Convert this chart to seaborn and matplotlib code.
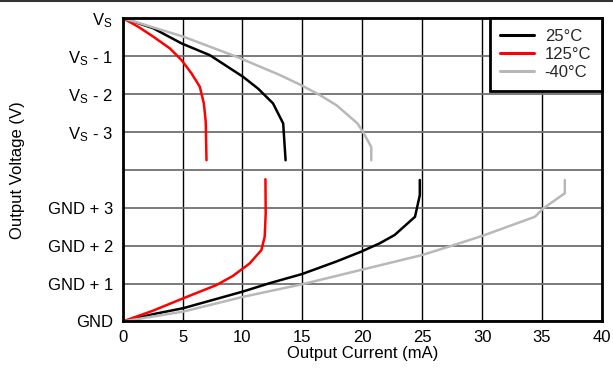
import matplotlib
matplotlib.use("Agg")
import matplotlib.pyplot as plt
from matplotlib.lines import Line2D
import seaborn as sns
import pandas as pd

# ---- data (x: output current mA, y: axis position, 0=GND ... 8=VS) ----
temps = ["25°C", "125°C", "-40°C"]
colors = ["#000000", "#ff0000", "#b8b8b8"]

black_top_x = [0, 2.55, 4.92, 7.28, 10.05, 11.3, 12.55, 13.4, 13.6]
black_top_y = [8, 7.73, 7.33, 7.02, 6.45, 6.14, 5.75, 5.22, 4.25]
red_top_x = [0, 1.3, 2.55, 3.94, 4.92, 5.75, 6.44, 6.78, 6.94, 7.0]
red_top_y = [8, 7.77, 7.51, 7.2, 6.89, 6.54, 6.19, 5.75, 5.26, 4.25]
gray_top_x = [0, 5.05, 9.5, 13.1, 14.9, 16.45, 17.85, 19.6, 20.05, 20.75, 20.75]
gray_top_y = [8, 7.51, 6.98, 6.5, 6.23, 5.97, 5.7, 5.22, 5.0, 4.6, 4.25]

black_bot_x = [0, 2.5, 5.05, 10.05, 12.27, 14.97, 17.83, 19.9, 21.45, 22.7, 24.4, 24.8, 24.8]
black_bot_y = [0, 0.19, 0.35, 0.79, 1.01, 1.25, 1.58, 1.84, 2.06, 2.28, 2.76, 3.33, 3.73]
red_bot_x = [0, 2.5, 5.05, 7.83, 9.2, 10.05, 10.6, 11.58, 11.86, 11.94, 11.92]
red_bot_y = [0, 0.28, 0.61, 0.96, 1.2, 1.4, 1.53, 1.88, 2.24, 2.85, 3.75]
gray_bot_x = [0, 5.05, 10.05, 14.97, 19.9, 24.97, 27.4, 30.05, 34.4, 35.1, 36.9, 36.9]
gray_bot_y = [0, 0.26, 0.65, 0.98, 1.36, 1.75, 1.99, 2.26, 2.76, 2.98, 3.38, 3.73]

y_ticks = [0, 1, 2, 3, 4, 5, 6, 7, 8]
y_labels = ["GND", "GND + 1", "GND + 2", "GND + 3", "",
            "V$_S$ - 3", "V$_S$ - 2", "V$_S$ - 1", "V$_S$"]
x_ticks = [0, 5, 10, 15, 20, 25, 30, 35, 40]

# ---- build long table ----
segments = [
    ("25°C", "top", black_top_x, black_top_y),
    ("125°C", "top", red_top_x, red_top_y),
    ("-40°C", "top", gray_top_x, gray_top_y),
    ("25°C", "bot", black_bot_x, black_bot_y),
    ("125°C", "bot", red_bot_x, red_bot_y),
    ("-40°C", "bot", gray_bot_x, gray_bot_y),
]
rows = []
for t, s, xs, ys in segments:
    for i, (x, y) in enumerate(zip(xs, ys)):
        rows.append({"temp": t, "seg": t + s, "order": i, "x": x, "y": y})
df = pd.DataFrame(rows)

sns.set_theme(style="white")
plt.rcParams["font.family"] = ["Liberation Sans", "DejaVu Sans"]
plt.rcParams["mathtext.default"] = "regular"

fig = plt.figure(figsize=(6.13, 3.68), dpi=100)
ax = fig.add_axes([0.2, 0.1264, 0.782, 0.8247])

sns.lineplot(data=df, x="x", y="y", hue="temp", units="seg", estimator=None,
             sort=False, hue_order=temps, palette=dict(zip(temps, colors)),
             linewidth=1.8, ax=ax)

ax.set_xlim(0, 40)
ax.set_ylim(0, 8)
ax.set_xticks(x_ticks)
ax.set_yticks(y_ticks)
ax.set_yticklabels(y_labels)
ax.tick_params(axis="both", length=0, labelsize=12, colors="black")
ax.tick_params(axis="y", pad=7)
ax.tick_params(axis="x", pad=6)

ax.xaxis.grid(True, color="#000000", linewidth=1.0)
ax.yaxis.grid(True, color="#707070", linewidth=1.3)
ax.set_axisbelow(True)
for sp in ax.spines.values():
    sp.set_visible(True)
    sp.set_color("black")
    sp.set_linewidth(2.0)

ax.set_xlabel("Output Current (mA)", fontsize=12, labelpad=1, color="black")
ax.set_ylabel("Output Voltage (V)", fontsize=12, labelpad=16, color="black")

leg = ax.legend(loc="upper right", borderaxespad=0, fontsize=12, frameon=True,
                fancybox=False, framealpha=1, handlelength=2.0, handletextpad=0.65,
                labelspacing=0.18, borderpad=0.65, title=None)
leg.get_frame().set_edgecolor("black")
leg.get_frame().set_linewidth(2.0)
for h in leg.get_lines():
    h.set_linewidth(2.2)

fig.add_artist(Line2D([0, 1], [0.998, 0.998], transform=fig.transFigure,
                      color="#333333", linewidth=1.5))

fig.savefig("out.png", dpi=100)
